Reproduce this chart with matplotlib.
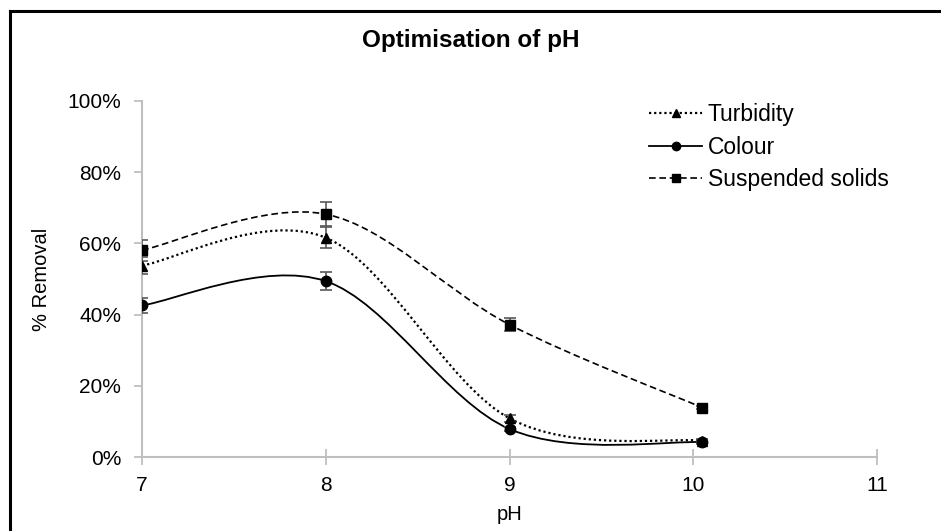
import matplotlib.pyplot as plt
import numpy as np
from matplotlib.path import Path
from matplotlib.patches import PathPatch
from matplotlib.lines import Line2D
from matplotlib.ticker import PercentFormatter

plt.rcParams['font.family'] = ['Liberation Sans', 'DejaVu Sans']

# -------------------------
# Data
# -------------------------
ph = [7.0, 8.0, 9.0, 10.05]
series_names = ["Turbidity", "Colour", "Suspended solids"]
turbidity = [53.8, 61.6, 10.9, 4.6]
turbidity_err = [2.5, 3.0, 0.9, 0.4]
colour = [42.6, 49.4, 7.9, 4.2]
colour_err = [2.1, 2.5, 0.6, 0.4]
solids = [58.1, 68.2, 37.2, 13.9]
solids_err = [2.9, 3.4, 1.8, 0.5]

x_ticks = [7, 8, 9, 10, 11]
y_ticks = [0, 20, 40, 60, 80, 100]


def smooth_path(x, y):
    # Excel-style smoothed line: cubic Bezier through the points
    pts = np.column_stack([x, y])
    n = len(pts)
    verts = [pts[0]]
    codes = [Path.MOVETO]
    for i in range(n - 1):
        p_prev = pts[i - 1] if i > 0 else pts[i]
        p_next2 = pts[i + 2] if i + 2 < n else pts[i + 1]
        c1 = pts[i] + (pts[i + 1] - p_prev) / 6.0
        c2 = pts[i + 1] - (p_next2 - pts[i]) / 6.0
        verts += [c1, c2, pts[i + 1]]
        codes += [Path.CURVE4] * 3
    return Path(verts, codes)


fig = plt.figure(figsize=(9.41, 5.31), dpi=100)
ax = fig.add_axes([0.151, 0.139, 0.781, 0.671])

styles = [
    (turbidity, turbidity_err, "^", (0, (1, 1.3)), 1.6),
    (colour, colour_err, "o", "-", 1.3),
    (solids, solids_err, "s", (0, (4, 2.2)), 1.2),
]

handles = []
for name, (vals, errs, mk, ls, lw) in zip(series_names, styles):
    ax.add_patch(PathPatch(smooth_path(ph, vals), fill=False, edgecolor="black",
                           linestyle=ls, linewidth=lw, zorder=2))
    ax.errorbar(ph, vals, yerr=errs, fmt="none", ecolor="#595959",
                elinewidth=1.2, capsize=4.5, capthick=1.2, zorder=3)
    ax.plot(ph, vals, linestyle="none", marker=mk, markersize=7.5,
            color="black", zorder=4)
    handles.append(Line2D([], [], color="black", linestyle=ls, linewidth=lw,
                          marker=mk, markersize=6, label=name))

ax.set_xlim(7, 11)
ax.set_ylim(0, 100)
ax.set_xticks(x_ticks)
ax.set_yticks(y_ticks)
ax.yaxis.set_major_formatter(PercentFormatter(100, decimals=0))

for side in ["top", "right"]:
    ax.spines[side].set_visible(False)
for side in ["left", "bottom"]:
    ax.spines[side].set_color("#BFBFBF")
    ax.spines[side].set_linewidth(1.5)
ax.spines["left"].set_zorder(1)
ax.spines["bottom"].set_zorder(1)

ax.tick_params(axis="x", direction="inout", length=11, width=1.3,
               color="#BFBFBF", labelsize=15, pad=8)
ax.tick_params(axis="y", direction="out", length=6, width=1.3,
               color="#BFBFBF", labelsize=15, pad=9)

ax.set_xlabel("pH", fontsize=14.5, labelpad=7)
ax.set_ylabel("% Removal", fontsize=14.5, labelpad=12)
fig.text(0.5, 0.923, "Optimisation of pH", ha="center", va="center",
         fontsize=17.5, fontweight="bold")

ax.legend(handles=handles, loc="upper left", bbox_to_anchor=(0.668, 0.845),
          bbox_transform=fig.transFigure, frameon=False, fontsize=16.5,
          handlelength=2.3, handletextpad=0.25, labelspacing=0.42)

# partial chart frame (top and left edges)
fig.add_artist(Line2D([10 / 941, 1.0], [1 - 11 / 531, 1 - 11 / 531],
                      transform=fig.transFigure, color="black", linewidth=2.2))
fig.add_artist(Line2D([10 / 941, 10 / 941], [1 - 11 / 531, 0.0],
                      transform=fig.transFigure, color="black", linewidth=2.2))

fig.savefig("out.png", dpi=100)
